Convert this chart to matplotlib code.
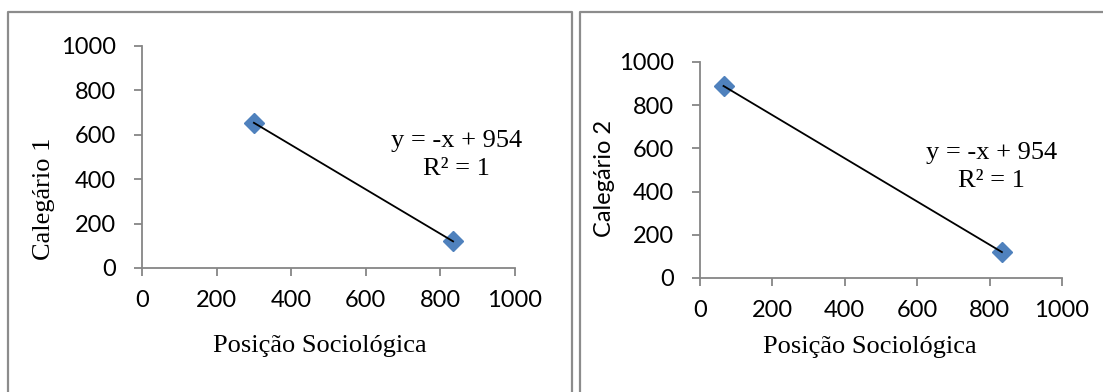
import matplotlib

matplotlib.use("Agg")

import matplotlib.pyplot as plt
from matplotlib.lines import Line2D

# data
POS_1 = [300, 834]
CAL_1 = [654, 120]
POS_2 = [65, 834]
CAL_2 = [889, 120]
X_TICKS = [0, 200, 400, 600, 800, 1000]
Y_TICKS = [0, 200, 400, 600, 800, 1000]
EQUATION = "y = -x + 954"
R2_TEXT = "R² = 1"

W, H = 1103, 392
SANS = "Lato"
SERIF = "Liberation Serif"
AXIS_GREY = "#868686"
MARKER_BLUE = "#4F81BD"


def px_box(x0, y0, x1, y1):
    # pixel rectangle (top-left origin) -> figure fraction [left, bottom, w, h]
    return [x0 / W, 1 - y1 / H, (x1 - x0) / W, (y1 - y0) / H]


def style_axes(ax):
    ax.set_xlim(0, 1000)
    ax.set_ylim(0, 1000)
    ax.set_xticks(X_TICKS)
    ax.set_yticks(Y_TICKS)
    for side in ("top", "right"):
        ax.spines[side].set_visible(False)
    for side in ("left", "bottom"):
        ax.spines[side].set_color(AXIS_GREY)
        ax.spines[side].set_linewidth(1.3)
    ax.tick_params(direction="out", length=6, width=1.3, color=AXIS_GREY,
                   labelsize=17)
    ax.tick_params(axis="y", pad=13)
    ax.tick_params(axis="x", pad=10)
    for lbl in ax.get_xticklabels() + ax.get_yticklabels():
        lbl.set_fontfamily(SANS)
    ax.patch.set_alpha(0)


def draw_panel(ax, xs, ys, text_x, eq_y, r2_y):
    ax.plot(xs, ys, color="black", linewidth=1.3, zorder=3)
    ax.plot(xs, ys, linestyle="none", marker="D", markersize=10,
            color=MARKER_BLUE, zorder=2)
    ax.text(text_x, eq_y, EQUATION, transform=ax.transAxes,
            ha="center", va="baseline", fontsize=19, family=SERIF)
    ax.text(text_x, r2_y, R2_TEXT, transform=ax.transAxes,
            ha="center", va="baseline", fontsize=19, family=SERIF)


fig = plt.figure(figsize=(W / 100, H / 100), dpi=100)

# chart frames
frame = dict(color="#8c8c8c", linewidth=1.6, transform=fig.transFigure)
fig.add_artist(Line2D([7.5 / W, 7.5 / W, 572 / W, 572 / W],
                      [0, 1 - 12.3 / H, 1 - 12.3 / H, 0], **frame))
fig.add_artist(Line2D([580 / W, 580 / W, 1.0], [0, 1 - 12.3 / H, 1 - 12.3 / H], **frame))

ax1 = fig.add_axes(px_box(142, 46, 515, 268))
style_axes(ax1)
draw_panel(ax1, POS_1, CAL_1, 0.842, 0.546, 0.419)
ax1.set_xlabel("Posição Sociológica", family=SERIF, fontsize=19)
ax1.xaxis.set_label_coords(0.477, -0.35)
ax1.xaxis.label.set_va("center")
ax1.set_ylabel("Calegário 1", family=SERIF, fontsize=19)
ax1.yaxis.set_label_coords(-0.262, 0.31)
ax1.yaxis.label.set_va("center")

ax2 = fig.add_axes(px_box(700, 62, 1062, 278))
style_axes(ax2)
draw_panel(ax2, POS_2, CAL_2, 0.806, 0.552, 0.421)
ax2.set_xlabel("Posição Sociológica", family=SERIF, fontsize=19)
ax2.xaxis.set_label_coords(0.47, -0.32)
ax2.xaxis.label.set_va("center")
ax2.set_ylabel("Calegário 2", family=SANS, fontsize=17)
ax2.yaxis.set_label_coords(-0.265, 0.46)
ax2.yaxis.label.set_va("center")

fig.savefig("out.png", dpi=100)
